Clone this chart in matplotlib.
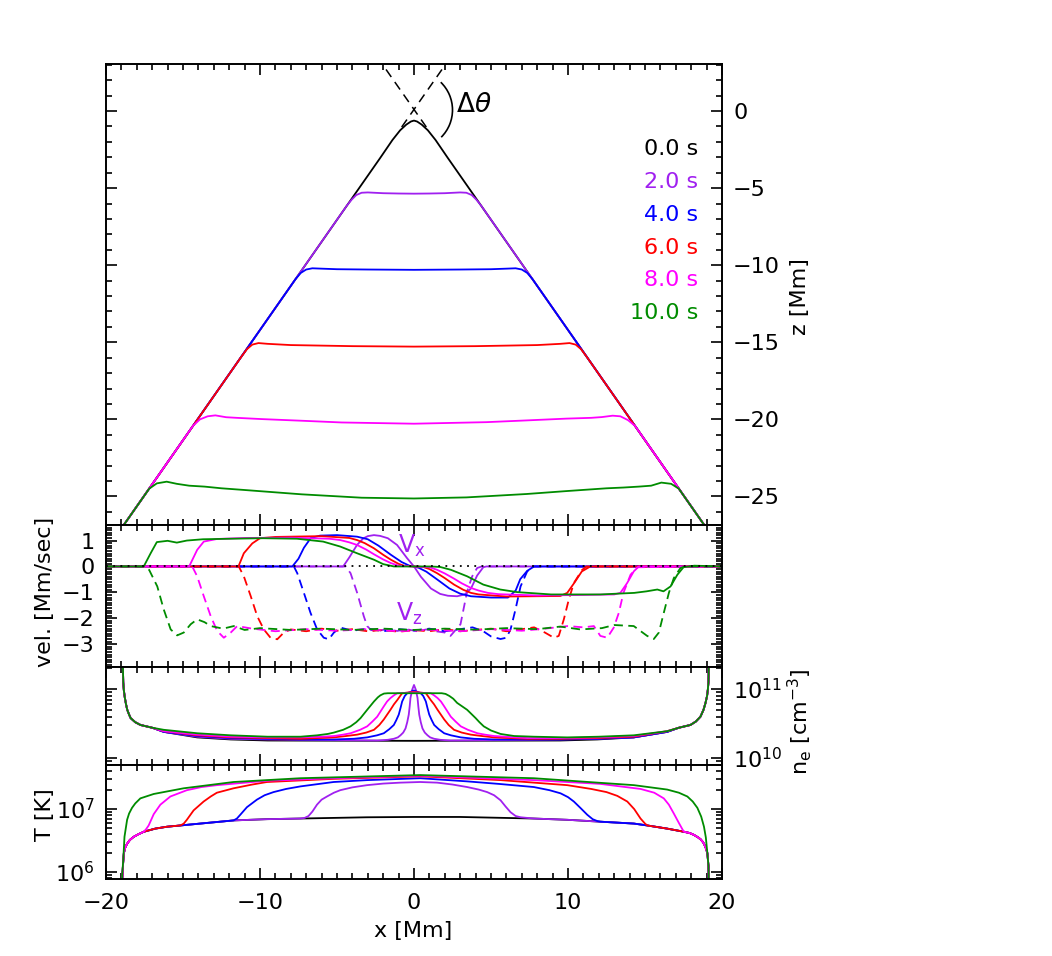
import numpy as np
import matplotlib
matplotlib.use('Agg')
import matplotlib.pyplot as plt
from matplotlib.patches import Arc
from matplotlib.ticker import MultipleLocator, FixedLocator, FixedFormatter, LogLocator, NullFormatter

# ---------------- data ----------------
times = ['0.0 s', '2.0 s', '4.0 s', '6.0 s', '8.0 s', '10.0 s']
colors = ['black', '#A020F0', '#0000FF', '#FF0000', '#FF00FF', '#008C00']

# loop-top shape z(x) [Mm]
top_x_0 = [-19.4, -2.2, -1.4, -0.9, -0.5, -0.2, 0.0, 0.2, 0.5, 0.9, 1.4, 2.2, 19.4]
top_z_0 = [-27.64, -3.05, -1.88, -1.25, -0.88, -0.68, -0.62, -0.68, -0.88, -1.25, -1.88, -3.05, -27.64]
top_x_2 = [-19.4, -4.35, -4.05, -3.75, -3.4, -3.0, -2.0, -1.0, 0.0, 1.0, 2.0, 3.0, 3.4, 3.75, 4.05, 4.35, 19.4]
top_z_2 = [-27.64, -6.12, -5.75, -5.45, -5.3, -5.28, -5.33, -5.35, -5.36, -5.35, -5.33, -5.28, -5.3, -5.45, -5.75, -6.12, -27.64]
top_x_4 = [-19.4, -7.7, -7.35, -7.0, -6.6, -6.1, -5.0, -3.0, 0.0, 3.0, 5.0, 6.1, 6.6, 7.0, 7.35, 7.7, 19.4]
top_z_4 = [-27.64, -10.91, -10.5, -10.28, -10.2, -10.22, -10.26, -10.28, -10.3, -10.28, -10.26, -10.22, -10.2, -10.28, -10.5, -10.91, -27.64]
top_x_6 = [-19.4, -11.2, -10.85, -10.5, -10.1, -9.5, -8.0, -4.0, 0.0, 4.0, 8.0, 9.5, 10.1, 10.5, 10.85, 11.2, 19.4]
top_z_6 = [-27.64, -15.92, -15.45, -15.15, -15.05, -15.1, -15.18, -15.25, -15.28, -15.25, -15.18, -15.1, -15.05, -15.15, -15.45, -15.92, -27.64]
top_x_8 = [-19.4, -14.36, -13.9, -13.4, -12.9, -12.2, -11.5, -9.9, -7.0, -4.7, 0.0, 4.7, 7.0, 9.9, 11.5, 12.2, 12.9, 13.4, 13.9, 14.36, 19.4]
top_z_8 = [-27.64, -20.43, -20.0, -19.8, -19.74, -19.86, -19.9, -19.98, -20.1, -20.2, -20.28, -20.18, -20.08, -19.95, -19.9, -19.85, -19.76, -19.8, -20.05, -20.43, -27.64]
top_x_10 = [-19.4, -17.2, -16.7, -16.06, -15.4, -14.6, -13.6, -12.5, -11.0, -7.3, -3.4, 0.0, 3.4, 7.3, 9.9, 12.5, 13.6, 14.6, 15.4, 16.06, 16.7, 17.2, 19.4]
top_z_10 = [-27.64, -24.5, -24.15, -24.04, -24.18, -24.3, -24.36, -24.47, -24.58, -24.86, -25.08, -25.13, -25.06, -24.84, -24.65, -24.47, -24.42, -24.36, -24.3, -24.1, -24.18, -24.5, -27.64]

# extensions of the loop legs above the cusp
dash_x_a = [-0.8, 2.1]
dash_z_a = [-1.04, 3.1]
dash_x_b = [0.8, -2.1]
dash_z_b = [-1.04, 3.1]

# velocities [Mm/sec]
vx0_x = [-20, 20]
vx0_v = [0, 0]
vx_x_2 = [-20, -4.6, -4.2, -3.7, -3.3, -3.0, -2.6, -2.2, -1.7, -1.1, -0.45, 0.0, 0.45, 1.1, 1.7, 2.2, 2.8, 3.3, 3.7, 4.1, 4.5, 4.7, 20]
vx_v_2 = [0, 0, 0.35, 0.83, 1.08, 1.17, 1.21, 1.18, 1.09, 0.83, 0.32, 0.0, -0.4, -0.85, -1.06, -1.13, -1.15, -1.08, -0.85, -0.35, -0.03, 0, 0]
vx_x_4 = [-20, -7.9, -7.5, -7.15, -6.7, -6.1, -5.0, -3.7, -3.0, -2.3, -1.5, -0.8, -0.3, 0.0, 0.3, 0.8, 1.5, 2.3, 3.0, 3.7, 5.0, 6.1, 6.6, 6.9, 7.35, 7.8, 20]
vx_v_4 = [0, 0, 0.3, 0.72, 1.1, 1.19, 1.21, 1.15, 1.05, 0.8, 0.45, 0.17, 0.03, 0, -0.05, -0.2, -0.5, -0.85, -1.05, -1.15, -1.2, -1.2, -0.93, -0.49, -0.17, 0, 0]
vx_x_6 = [-20, -11.4, -11.05, -10.5, -10.0, -9.0, -6.0, -4.2, -3.7, -3.2, -2.6, -2.0, -1.5, -1.0, -0.6, 0.0, 0.6, 1.0, 1.5, 2.0, 2.6, 3.2, 3.7, 4.2, 6.0, 9.5, 9.95, 10.4, 10.9, 11.45, 20]
vx_v_6 = [0, 0, 0.51, 0.89, 1.09, 1.14, 1.17, 1.1, 1.02, 0.9, 0.7, 0.45, 0.26, 0.1, 0.02, 0, -0.02, -0.1, -0.26, -0.45, -0.7, -0.9, -1.02, -1.08, -1.16, -1.14, -1.02, -0.64, -0.19, 0, 0]
vx_x_8 = [-20, -14.6, -14.08, -13.65, -12.8, -11.0, -8.0, -5.5, -4.8, -4.2, -3.7, -3.1, -2.6, -2.0, -1.5, -1.0, 0.0, 1.0, 1.5, 2.0, 2.6, 3.1, 3.7, 4.2, 4.8, 5.5, 8.0, 11.0, 13.0, 13.4, 13.84, 14.27, 14.6, 20]
vx_v_8 = [0, 0, 0.64, 0.96, 1.06, 1.1, 1.11, 1.07, 1.02, 0.93, 0.83, 0.65, 0.47, 0.27, 0.13, 0.03, 0, -0.03, -0.13, -0.27, -0.47, -0.65, -0.83, -0.93, -1.02, -1.07, -1.12, -1.1, -1.08, -1.02, -0.64, -0.19, 0, 0]
vx_x_10 = [-20, -17.55, -17.1, -16.7, -16.0, -15.4, -14.75, -13.7, -11.9, -9.8, -7.6, -5.9, -4.8, -3.7, -2.6, -2.0, -1.3, 0.0, 1.1, 1.7, 2.4, 3.45, 4.5, 5.6, 6.7, 8.9, 12.1, 14.3, 15.1, 15.8, 16.2, 16.66, 17.1, 17.5, 18.2, 20]
vx_v_10 = [0, 0, 0.51, 0.94, 0.99, 0.92, 1.0, 1.05, 1.07, 1.09, 1.07, 0.96, 0.77, 0.51, 0.26, 0.09, 0, 0, 0, -0.02, -0.13, -0.38, -0.7, -0.89, -0.99, -1.08, -1.08, -1.02, -0.96, -0.89, -0.96, -0.77, -0.32, -0.03, 0.03, 0]

vz_x_2 = [-20, -4.45, -4.12, -3.69, -3.26, -3.04, -2.8, -2.4, -1.8, -1.1, -0.5, 0.2, 0.8, 1.4, 2.0, 2.37, 3.02, 3.45, 3.78, 4.1, 4.4, 20]
vz_v_2 = [0, 0, -0.26, -1.02, -1.92, -2.3, -2.45, -2.5, -2.42, -2.49, -2.42, -2.5, -2.43, -2.5, -2.55, -2.68, -2.23, -0.96, -0.38, -0.06, 0, 0]
vz_x_4 = [-20, -7.8, -7.58, -7.15, -6.72, -6.29, -5.86, -5.53, -5.2, -4.77, -4.0, -3.0, -2.0, -1.0, 0.0, 1.0, 2.0, 3.0, 3.8, 4.5, 5.0, 5.62, 6.0, 6.27, 6.59, 6.92, 7.35, 7.78, 20]
vz_v_4 = [0, 0, -0.26, -1.02, -1.79, -2.43, -2.75, -2.81, -2.55, -2.36, -2.48, -2.4, -2.5, -2.42, -2.47, -2.4, -2.5, -2.42, -2.35, -2.5, -2.7, -2.8, -2.75, -2.43, -1.66, -0.77, -0.19, 0, 0]
vz_x_6 = [-20, -11.38, -11.05, -10.6, -10.18, -9.75, -9.32, -8.88, -8.45, -8.0, -7.0, -6.0, -5.0, -4.0, -3.0, -2.0, -1.0, 0.0, 1.0, 2.0, 3.0, 4.0, 5.0, 6.0, 7.0, 7.8, 8.5, 9.08, 9.4, 9.73, 10.05, 10.38, 10.92, 11.2, 20]
vz_v_6 = [0, 0, -0.38, -1.15, -1.92, -2.43, -2.75, -2.81, -2.55, -2.43, -2.5, -2.4, -2.48, -2.42, -2.5, -2.45, -2.52, -2.46, -2.5, -2.42, -2.5, -2.45, -2.4, -2.5, -2.42, -2.35, -2.55, -2.75, -2.68, -2.04, -1.28, -0.64, -0.13, 0, 0]
vz_x_8 = [-20, -14.4, -14.08, -13.65, -13.2, -12.78, -12.35, -11.9, -11.48, -10.5, -9.0, -7.0, -5.0, -3.0, -1.0, 1.0, 3.0, 5.0, 7.0, 8.5, 10.0, 11.0, 11.68, 12.1, 12.55, 12.97, 13.3, 13.6, 14.06, 14.5, 20]
vz_v_8 = [0, 0, -0.38, -1.15, -1.92, -2.49, -2.75, -2.55, -2.3, -2.4, -2.5, -2.42, -2.48, -2.42, -2.5, -2.44, -2.5, -2.42, -2.48, -2.4, -2.3, -2.35, -2.3, -2.68, -2.75, -2.36, -1.79, -1.02, -0.32, -0.03, 0]
vz_x_10 = [-20, -17.55, -17.2, -16.67, -16.25, -15.8, -15.38, -14.95, -14.5, -14.08, -13.6, -13.2, -12.4, -11.7, -11.0, -10.0, -8.0, -6.0, -4.0, -2.0, 0.0, 2.0, 4.0, 6.0, 8.0, 9.5, 10.8, 12.2, 13.0, 14.27, 15.14, 15.57, 15.9, 16.22, 16.55, 16.87, 17.3, 17.6, 20]
vz_v_10 = [0, 0, -0.13, -0.77, -1.66, -2.43, -2.66, -2.55, -2.23, -2.04, -2.15, -2.3, -2.4, -2.3, -2.45, -2.38, -2.45, -2.4, -2.45, -2.4, -2.45, -2.4, -2.44, -2.38, -2.42, -2.32, -2.43, -2.38, -2.26, -2.3, -2.68, -2.8, -2.55, -1.79, -1.02, -0.45, -0.06, 0, 0]

# electron density, log10(n_e [cm^-3]); footpoint parts are common to all times
ne_foot_lx = [-18.92, -18.88, -18.84, -18.78, -18.7, -18.62, -18.5, -18.4, -18.1, -17.76, -17.0]
ne_foot_ll = [11.5, 11.1, 10.98, 10.88, 10.78, 10.70, 10.63, 10.58, 10.52, 10.48, 10.44]
ne_foot_rx = [17.2, 17.95, 18.3, 18.6, 18.8, 18.93, 19.03, 19.08, 19.12, 19.16]
ne_foot_rl = [10.44, 10.48, 10.53, 10.60, 10.70, 10.80, 10.9, 10.99, 11.1, 11.5]
ne_mid_x_0 = [-16.25, -14.08, -11.9, -9.5, 0.0, 9.5, 11.9, 14.27, 16.44]
ne_mid_l_0 = [10.38, 10.3, 10.27, 10.255, 10.25, 10.255, 10.27, 10.3, 10.38]
ne_mid_x_2 = [-16.25, -14.08, -11.9, -9.5, -7.37, -5.0, -2.39, -1.7, -1.31, -1.05, -0.88, -0.7, -0.55, -0.44, -0.34, -0.28, -0.23, -0.12, 0.0,
	0.12, 0.23, 0.28, 0.34, 0.44, 0.55, 0.7, 0.88, 1.05, 1.31, 1.7, 2.39, 5.0, 7.37, 9.5, 11.9, 14.27, 16.44]
ne_mid_l_2 = [10.38, 10.31, 10.28, 10.27, 10.265, 10.26, 10.255, 10.265, 10.28, 10.30, 10.33, 10.37, 10.43, 10.52, 10.63, 10.75, 10.87, 10.99, 11.06,
	10.99, 10.87, 10.75, 10.63, 10.52, 10.43, 10.37, 10.33, 10.30, 10.28, 10.265, 10.255, 10.26, 10.265, 10.27, 10.28, 10.30, 10.38]
ne_mid_x_4 = [-16.25, -14.08, -11.9, -9.5, -7.37, -5.2, -3.9, -3.04, -2.4, -1.96, -1.6, -1.31, -1.15, -0.99, -0.87, -0.77, -0.6, -0.44, 0.0,
	0.44, 0.6, 0.77, 0.87, 0.99, 1.15, 1.31, 1.6, 1.96, 2.4, 3.04, 3.9, 5.2, 7.37, 9.5, 11.9, 14.27, 16.44]
ne_mid_l_4 = [10.38, 10.32, 10.29, 10.28, 10.27, 10.27, 10.28, 10.30, 10.33, 10.36, 10.42, 10.48, 10.55, 10.63, 10.73, 10.82, 10.9, 10.94, 10.98,
	10.94, 10.9, 10.82, 10.73, 10.63, 10.55, 10.48, 10.42, 10.36, 10.33, 10.30, 10.28, 10.27, 10.27, 10.27, 10.28, 10.30, 10.38]
ne_mid_x_6 = [-16.25, -14.08, -11.9, -9.5, -7.37, -5.2, -4.4, -3.69, -3.1, -2.6, -2.25, -1.96, -1.53, -1.3, -1.09, -0.9, -0.77, -0.4, 0.0,
	0.4, 0.77, 0.9, 1.09, 1.3, 1.53, 1.96, 2.25, 2.6, 3.1, 3.69, 4.4, 5.2, 7.37, 9.5, 11.9, 14.27, 16.44]
ne_mid_l_6 = [10.39, 10.33, 10.30, 10.29, 10.28, 10.30, 10.32, 10.34, 10.37, 10.41, 10.48, 10.56, 10.70, 10.78, 10.84, 10.90, 10.94, 10.95, 10.96,
	10.95, 10.94, 10.90, 10.84, 10.78, 10.70, 10.56, 10.48, 10.41, 10.37, 10.34, 10.32, 10.30, 10.28, 10.28, 10.29, 10.31, 10.39]
ne_mid_x_8 = [-16.25, -14.08, -11.9, -9.5, -7.37, -5.9, -5.2, -4.6, -4.12, -3.5, -3.04, -2.7, -2.39, -1.96, -1.75, -1.53, -1.3, -1.09, 0.0,
	1.09, 1.3, 1.53, 1.75, 1.96, 2.39, 2.7, 3.04, 3.5, 4.12, 4.6, 5.2, 5.9, 7.37, 9.5, 11.9, 14.27, 16.44]
ne_mid_l_8 = [10.39, 10.34, 10.31, 10.30, 10.30, 10.31, 10.32, 10.34, 10.36, 10.41, 10.46, 10.53, 10.60, 10.75, 10.82, 10.87, 10.91, 10.94, 10.95,
	10.94, 10.91, 10.87, 10.82, 10.75, 10.60, 10.53, 10.46, 10.41, 10.36, 10.34, 10.32, 10.31, 10.29, 10.29, 10.30, 10.32, 10.39]
ne_mid_x_10 = [-16.25, -14.08, -11.9, -9.5, -7.37, -6.29, -5.6, -5.2, -4.6, -4.12, -3.75, -3.47, -3.04, -2.6, -2.35, -2.18, -1.95, -1.7, 0.0,
	1.8, 2.05, 2.3, 2.55, 2.8, 3.45, 4.0, 4.25, 4.53, 5.0, 5.62, 6.5, 7.78, 9.95, 12.0, 14.27, 16.44]
ne_mid_l_10 = [10.41, 10.36, 10.33, 10.31, 10.31, 10.33, 10.35, 10.37, 10.41, 10.46, 10.52, 10.58, 10.70, 10.82, 10.88, 10.91, 10.935, 10.94, 10.94,
	10.94, 10.93, 10.90, 10.86, 10.80, 10.70, 10.58, 10.52, 10.46, 10.40, 10.35, 10.32, 10.31, 10.30, 10.31, 10.33, 10.39]

# temperature, log10(T [K]); the 0 s curve is the base the others leave from
te_x_0 = [-18.97, -18.93, -18.9, -18.84, -18.75, -18.63, -18.45, -18.2, -17.9, -17.55, -16.8, -16.04, -15.17, -13.88, -11.72, -9.55, -7.38, -3.05, 0.0, 3.0,
	7.78, 9.95, 12.1, 14.28, 15.15, 16.44, 17.53, 17.9, 18.18, 18.45, 18.61, 18.75, 18.83, 18.95, 19.05, 19.12, 19.16]
te_l_0 = [5.7, 5.95, 6.1, 6.30, 6.39, 6.45, 6.51, 6.56, 6.60, 6.64, 6.69, 6.72, 6.74, 6.77, 6.82, 6.84, 6.85, 6.87, 6.875, 6.875,
	6.85, 6.83, 6.80, 6.77, 6.74, 6.69, 6.64, 6.62, 6.59, 6.55, 6.52, 6.48, 6.45, 6.38, 6.3, 6.1, 5.7]
te_mid_x_2 = [-7.1, -6.85, -6.6, -6.3, -6.0, -5.65, -5.2, -4.79, -4.0, -3.05, -2.0, -0.89, 0.4, 1.5, 2.5, 3.45, 4.2, 4.75, 5.2, 5.62, 5.95, 6.27, 6.6, 6.92]
te_mid_l_2 = [6.86, 6.89, 6.96, 7.07, 7.15, 7.2, 7.26, 7.3, 7.345, 7.38, 7.405, 7.42, 7.43, 7.42, 7.39, 7.35, 7.31, 7.27, 7.22, 7.14, 7.04, 6.95, 6.89, 6.87]
te_mid_x_4 = [-11.5, -11.28, -10.85, -10.2, -9.7, -9.12, -8.3, -7.38, -5.22, -3.05, 0.4, 3.45, 5.5, 7.78, 8.8, 9.52, 10.0, 10.38, 10.8, 11.25, 11.6, 11.9]
te_mid_l_4 = [6.85, 6.91, 7.03, 7.15, 7.22, 7.27, 7.32, 7.36, 7.43, 7.46, 7.49, 7.44, 7.40, 7.35, 7.30, 7.25, 7.19, 7.12, 7.02, 6.91, 6.84, 6.81]
te_mid_x_6 = [-14.95, -14.75, -14.31, -13.66, -13.2, -12.8, -11.72, -10.5, -9.55, -5.22, 0.4, 5.62, 9.95, 11.5, 12.5, 13.2, 13.85, 14.3, 14.71, 15.0]
te_mid_l_6 = [6.77, 6.83, 6.98, 7.12, 7.2, 7.26, 7.33, 7.39, 7.43, 7.48, 7.52, 7.46, 7.38, 7.32, 7.27, 7.21, 7.12, 7.0, 6.85, 6.77]
te_mid_x_8 = [-17.4, -17.23, -16.9, -16.47, -15.82, -14.75, -13.8, -12.8, -9.55, -5.22, 0.4, 7.78, 12.1, 14.71, 15.6, 16.22, 16.55, 16.87, 17.2, 17.45]
te_mid_l_8 = [6.68, 6.74, 6.92, 7.07, 7.20, 7.30, 7.35, 7.38, 7.45, 7.49, 7.53, 7.46, 7.40, 7.32, 7.26, 7.17, 7.07, 6.93, 6.78, 6.67]
te_mid_x_10 = [-18.95, -18.88, -18.8, -18.63, -18.5, -18.31, -18.1, -17.77, -17.4, -16.9, -14.96, -11.72, -7.38, 0.4, 7.78, 14.28, 16.44,
	17.2, 17.75, 18.1, 18.4, 18.65, 18.83, 18.95, 19.05, 19.12]
te_mid_l_10 = [5.95, 6.19, 6.56, 6.83, 6.93, 7.02, 7.09, 7.17, 7.2, 7.24, 7.33, 7.43, 7.49, 7.54, 7.49, 7.38, 7.31,
	7.26, 7.2, 7.12, 7.02, 6.88, 6.72, 6.55, 6.3, 6.1]

top_x = [top_x_0, top_x_2, top_x_4, top_x_6, top_x_8, top_x_10]
top_z = [top_z_0, top_z_2, top_z_4, top_z_6, top_z_8, top_z_10]
vx_x = [vx_x_2, vx_x_4, vx_x_6, vx_x_8, vx_x_10]
vx_v = [vx_v_2, vx_v_4, vx_v_6, vx_v_8, vx_v_10]
vz_x = [vz_x_2, vz_x_4, vz_x_6, vz_x_8, vz_x_10]
vz_v = [vz_v_2, vz_v_4, vz_v_6, vz_v_8, vz_v_10]
ne_mid_x = [ne_mid_x_0, ne_mid_x_2, ne_mid_x_4, ne_mid_x_6, ne_mid_x_8, ne_mid_x_10]
ne_mid_l = [ne_mid_l_0, ne_mid_l_2, ne_mid_l_4, ne_mid_l_6, ne_mid_l_8, ne_mid_l_10]
te_mid_x = [te_mid_x_2, te_mid_x_4, te_mid_x_6, te_mid_x_8, te_mid_x_10]
te_mid_l = [te_mid_l_2, te_mid_l_4, te_mid_l_6, te_mid_l_8, te_mid_l_10]


def on_base(bx, bl, mx, ml):
	# splice a curve's own section into the base curve
	left = [(x, l) for x, l in zip(bx, bl) if x < mx[0]]
	right = [(x, l) for x, l in zip(bx, bl) if x > mx[-1]]
	pts = left + list(zip(mx, ml)) + right
	return np.array([p[0] for p in pts]), np.array([p[1] for p in pts])


# ---------------- figure ----------------
plt.rcParams['font.family'] = 'DejaVu Sans'
plt.rcParams['mathtext.default'] = 'regular'
plt.rcParams['axes.linewidth'] = 1.4
FS = 16
LW = 1.3

fig = plt.figure(figsize=(10.52, 9.56), dpi=100)
W, H = 1052.0, 956.0

def box(x0, y0, x1, y1):
	return [x0 / W, 1 - y1 / H, (x1 - x0) / W, (y1 - y0) / H]

ax1 = fig.add_axes(box(106, 64, 722, 525))
ax2 = fig.add_axes(box(106, 525, 722, 667))
ax3 = fig.add_axes(box(106, 667, 722, 765))
ax4 = fig.add_axes(box(106, 765, 722, 879))

for ax in [ax1, ax2, ax3, ax4]:
	ax.set_xlim(-20, 20)
	ax.xaxis.set_major_locator(MultipleLocator(10))
	ax.xaxis.set_minor_locator(MultipleLocator(1))
	ax.tick_params(which='both', direction='in', top=True, bottom=True, left=True, right=True,
		labelbottom=False, labelleft=False, labelright=False, labelsize=FS, width=1.2, pad=8)
	ax.tick_params(which='major', length=8)
	ax.tick_params(which='minor', length=4)

# top panel: loop shape
for i in range(len(times)):
	ax1.plot(top_x[i], top_z[i], color=colors[i], lw=LW)
ax1.plot(dash_x_a, dash_z_a, color='black', lw=1.1, dashes=(6, 4))
ax1.plot(dash_x_b, dash_z_b, color='black', lw=1.1, dashes=(6, 4))
ax1.add_patch(Arc((0, 0.07), 5.0, 5.0, theta1=-45, theta2=46, color='black', lw=1.2))
ax1.text(2.7, 0.4, r'$\Delta\mathit{\theta}$', fontsize=19, ha='left', va='center')
ax1.set_ylim(-26.85, 3.05)
ax1.yaxis.set_major_locator(MultipleLocator(5))
ax1.yaxis.set_minor_locator(MultipleLocator(1))
ax1.tick_params(axis='y', labelright=True)
for i in range(len(times)):
	ax1.text(0.961, 0.8156 - i * 0.0713, times[i], color=colors[i], fontsize=16,
		ha='right', va='center', transform=ax1.transAxes)

# velocities
for i in range(1, len(times)):
	ax2.plot(vx_x[i - 1], vx_v[i - 1], color=colors[i], lw=LW)
	ax2.plot(vz_x[i - 1], vz_v[i - 1], color=colors[i], lw=LW, dashes=(5, 3))
ax2.plot(vx0_x, vx0_v, color='black', lw=1.3, dashes=(1, 3), zorder=5)
ax2.text(-1.05, 0.78, r'V$_\mathregular{x}$', color=colors[1], fontsize=17, ha='left', va='center')
ax2.text(-1.2, -1.85, r'V$_\mathregular{z}$', color=colors[1], fontsize=17, ha='left', va='center')
ax2.set_ylim(-3.88, 1.6)
ax2.yaxis.set_major_locator(MultipleLocator(1))
ax2.yaxis.set_minor_locator(MultipleLocator(0.1))
ax2.tick_params(axis='y', labelleft=True)

# density
for i in range(len(times)):
	nx = ne_foot_lx + ne_mid_x[i] + ne_foot_rx
	nl = ne_foot_ll + ne_mid_l[i] + ne_foot_rl
	ax3.plot(nx, 10 ** np.array(nl), color=colors[i], lw=LW)
ax3.set_yscale('log')
ax3.set_ylim(10 ** 9.9, 10 ** 11.32)
ax3.yaxis.set_major_locator(FixedLocator([1e10, 1e11]))
ax3.yaxis.set_major_formatter(FixedFormatter(['10$^{10}$', '10$^{11}$']))
ax3.yaxis.set_minor_locator(LogLocator(base=10, subs=np.arange(2, 10), numticks=20))
ax3.yaxis.set_minor_formatter(NullFormatter())
ax3.tick_params(axis='y', labelright=True)

# temperature
ax4.plot(te_x_0, 10 ** np.array(te_l_0), color=colors[0], lw=LW)
for i in range(1, len(times)):
	tx, tl = on_base(te_x_0, te_l_0, te_mid_x[i - 1], te_mid_l[i - 1])
	ax4.plot(tx, 10 ** tl, color=colors[i], lw=LW)
ax4.set_yscale('log')
ax4.set_ylim(10 ** 5.89, 10 ** 7.70)
ax4.yaxis.set_major_locator(FixedLocator([1e6, 1e7]))
ax4.yaxis.set_major_formatter(FixedFormatter(['10$^{6}$', '10$^{7}$']))
ax4.yaxis.set_minor_locator(LogLocator(base=10, subs=np.arange(2, 10), numticks=20))
ax4.yaxis.set_minor_formatter(NullFormatter())
ax4.tick_params(axis='y', labelleft=True)
ax4.tick_params(axis='x', labelbottom=True, pad=10)

# axis titles
fig.text(413 / W, 1 - 931 / H, 'x [Mm]', fontsize=FS, ha='center', va='center')
fig.text(45 / W, 1 - 592 / H, 'vel. [Mm/sec]', fontsize=FS, ha='center', va='center', rotation=90)
fig.text(45 / W, 1 - 815 / H, 'T [K]', fontsize=FS, ha='center', va='center', rotation=90)
fig.text(800 / W, 1 - 297 / H, 'z [Mm]', fontsize=FS, ha='center', va='center', rotation=90)
fig.text(800 / W, 1 - 722 / H, 'n$_e$ [cm$^{-3}$]', fontsize=FS, ha='center', va='center', rotation=90)

fig.savefig('out.png', dpi=100)
